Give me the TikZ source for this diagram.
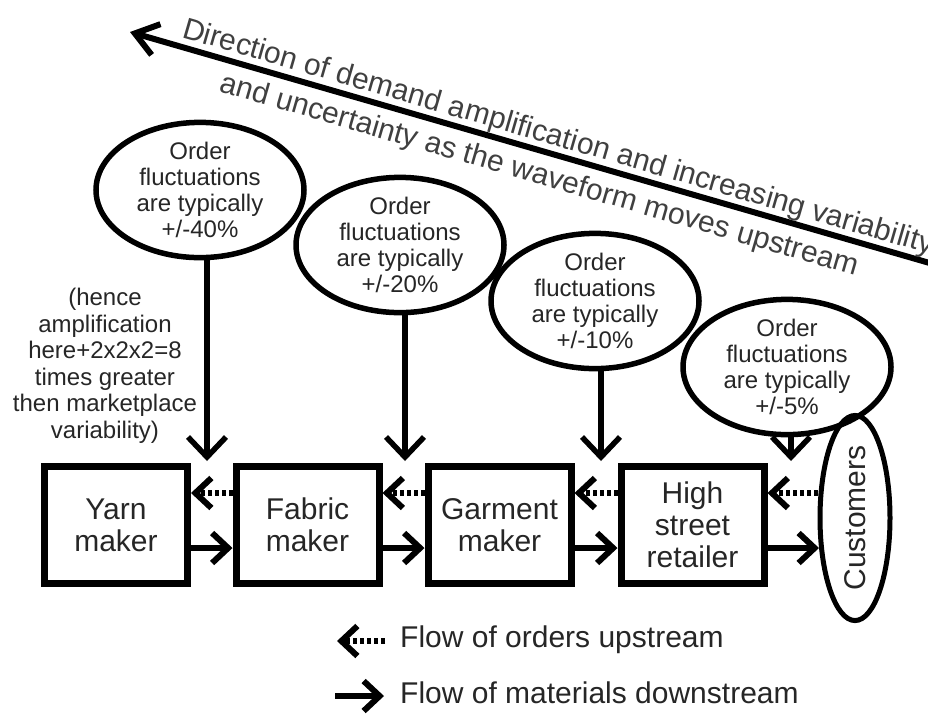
\documentclass[tikz,border=0pt]{standalone}
\usepackage{fontspec}
\setmainfont{Liberation Sans}
\usetikzlibrary{shapes.geometric,arrows.meta}
\begin{document}
\begin{tikzpicture}[x=1pt,y=-1pt,
  stage/.style={draw=black, text=black!85, line width=7pt, minimum width=143pt, minimum height=117pt, inner sep=0pt, align=center, font=\fontsize{30}{32}\selectfont},
  fluct/.style={ellipse, draw=black, text=black!85, line width=5.5pt, minimum width=208pt, minimum height=120pt, inner sep=0pt, align=center, font=\fontsize{24}{26}\selectfont},
  bigarrow/.style={line width=5.5pt, -{Straight Barb[length=20pt,width=38pt]}},
  mat/.style={line width=6pt, -{Straight Barb[length=16pt,width=30pt]}},
  ord/.style={line width=6pt, dash pattern=on 4pt off 3pt, -{Straight Barb[length=16pt,width=30pt]}},
  dirarrow/.style={line width=6pt, -{Straight Barb[length=22pt,width=32pt]}},
  sidenote/.style={align=center, text=black!85, font=\fontsize{24}{26.5}\selectfont},
  legtext/.style={text=black!85, font=\fontsize{30}{32}\selectfont},
  dirtext/.style={text=black!75, inner sep=0pt, font=\fontsize{30}{32}\selectfont}
]
\useasboundingbox (0,0) rectangle (928,713);
\fill[white] (0,0) rectangle (928,713);
\clip (0,0) rectangle (928,713);

% direction arrow
\coordinate (dirstart) at (940,266);
\coordinate (dirtip) at (130,32);
\draw[dirarrow] (dirstart) -- (dirtip);
\node[dirtext, anchor=base west, rotate=-16.17] (dir1) at (181,37) {Direction of demand amplification and increasing variability};
\node[dirtext, anchor=base west, rotate=-16.17] (dir2) at (218,91) {and uncertainty as the waveform moves upstream};

% fluctuation ellipses
\node[fluct] (e1) at (200,190) {Order\\fluctuations\\are typically\\+/-40\%};
\node[fluct] (e2) at (400,245) {Order\\fluctuations\\are typically\\+/-20\%};
\node[fluct] (e3) at (595,301) {Order\\fluctuations\\are typically\\+/-10\%};
\node[fluct] (e4) at (787,367) {Order\\fluctuations\\are typically\\+/-5\%};

% side note
\node[sidenote] (hence) at (105,366) {(hence\\amplification\\here+2x2x2=8\\times greater\\then marketplace\\variability)};

% stages
\node[stage] (yarn) at (116,525) {Yarn\\maker};
\node[stage] (fabric) at (307.5,525) {Fabric\\maker};
\node[stage] (garment) at (499.5,525) {Garment\\maker};
\node[stage] (retail) at (692.5,525) {High\\street\\retailer};
\node[ellipse, draw=black, line width=5pt, rotate=90, minimum width=188pt, minimum height=70pt, inner sep=0pt, text=black!85, font=\fontsize{30}{32}\selectfont] (cust) at (855,518) {Customers};

% vertical arrows from ellipses
\coordinate (g1) at (207,461);
\coordinate (g2) at (405,461);
\coordinate (g3) at (601,461);
\coordinate (g4) at (791,461);
\draw[bigarrow] (e1.south -| g1) -- (g1);
\draw[bigarrow] (e2.south -| g2) -- (g2);
\draw[bigarrow] (e3.south -| g3) -- (g3);
\draw[bigarrow] (e4.south -| g4) -- (g4);

% flows between stages
\foreach \a/\b in {yarn/fabric, fabric/garment, garment/retail} {
  \draw[mat] ([yshift=-23pt]\a.east) -- ([yshift=-23pt]\b.west);
  \draw[ord] ([yshift=32pt]\b.west) -- ([yshift=32pt]\a.east);
}
\coordinate (custin) at (819,548);
\coordinate (custout) at (818,493);
\draw[mat] ([yshift=-23pt]retail.east) -- (custin);
\draw[ord] (custout) -- ([yshift=32pt]retail.east);

% legend
\node[legtext, anchor=base west, inner sep=0pt] (leg1) at (400,647) {Flow of orders upstream};
\node[legtext, anchor=base west, inner sep=0pt] (leg2) at (400,703) {Flow of materials downstream};
\coordinate (l1a) at (385,641);
\coordinate (l1b) at (337,641);
\draw[ord] (l1a) -- (l1b);
\coordinate (l2a) at (335,696);
\coordinate (l2b) at (384,696);
\draw[mat] (l2a) -- (l2b);
\end{tikzpicture}
\end{document}
